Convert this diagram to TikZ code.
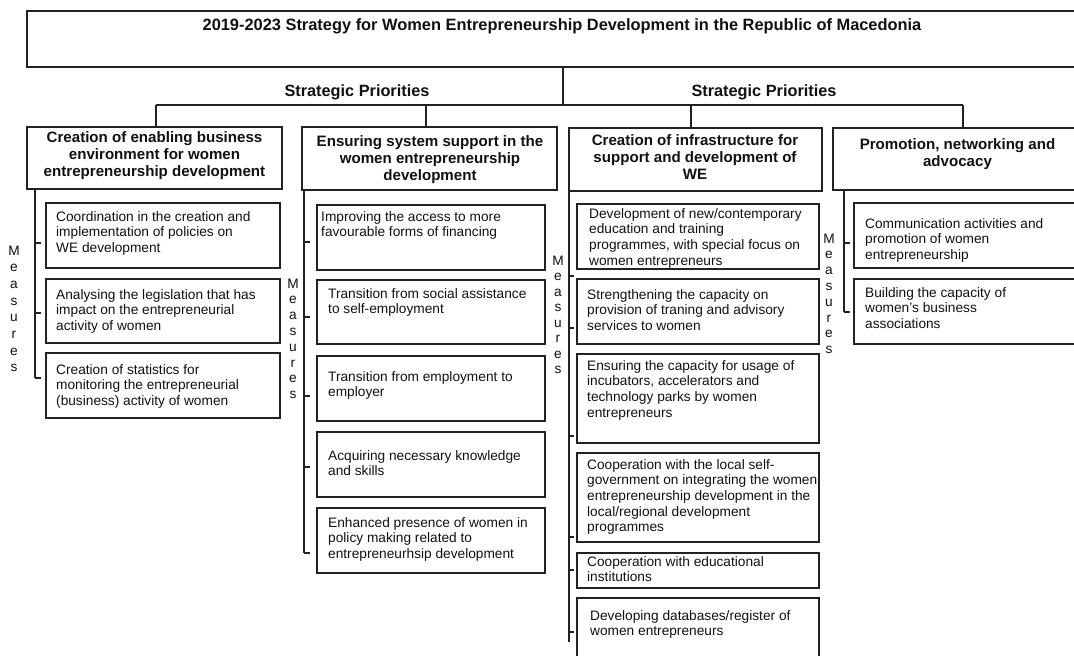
\documentclass[tikz,border=0pt]{standalone}
\usepackage{fontspec}
\setmainfont{Liberation Sans}
\definecolor{linec}{HTML}{222222}
\definecolor{txtc}{HTML}{111111}
\newcommand\bx[5]{\node[box, minimum width={#4pt-#2pt}, minimum height={#5pt-#3pt}] (#1) at (#2,#3) {};}
\newcommand\measnode[4]{\node[measstyle, font=\fontsize{13.7}{#4}\selectfont] (#1) at (#2,#3) {\strut M\\e\\a\\s\\u\\r\\e\\s};}
\begin{document}
\begin{tikzpicture}[x=1pt,y=-1pt,
  conn/.style={draw=linec, line width=1.2pt},
  box/.style={draw=linec, line width=1.6pt, inner sep=0pt, outer sep=0pt, anchor=north west},
  mtext/.style={text=txtc, font=\fontsize{13.7}{15.7}\selectfont, align=left, inner sep=0pt, anchor=north west, execute at begin node=\strut},
  htext/.style={text=txtc, font=\bfseries\fontsize{15.1}{17}\selectfont, align=center, inner sep=0pt, anchor=north, execute at begin node=\strut},
  ttext/.style={text=txtc, font=\bfseries\fontsize{16.4}{19}\selectfont, inner sep=0pt, anchor=base},
  measstyle/.style={text=txtc, align=center, inner sep=0pt, anchor=north}
]
\useasboundingbox (0,0) rectangle (1074,656);
\clip (0,0) rectangle (1074,656);
\fill[white] (0,0) rectangle (1074,656);

% title
\bx{title}{27}{11}{1090}{67}
\node[ttext] (titlet) at (562,30) {2019-2023 Strategy for Women Entrepreneurship Development in the Republic of Macedonia};
\node[ttext, font=\bfseries\fontsize{16.3}{19}\selectfont] (sp1) at (357,96.5) {Strategic Priorities};
\node[ttext, font=\bfseries\fontsize{16.3}{19}\selectfont] (sp2) at (764,96.5) {Strategic Priorities};

% category boxes
\bx{cat1}{27}{127}{282}{189}
\bx{cat2}{302}{127}{557}{190}
\bx{cat3}{569}{128}{822}{191}
\bx{cat4}{833}{128}{1090}{190}
\node[htext] (cat1t) at (154.5,131.5) {Creation of enabling business\\environment for women\\entrepreneurship development};
\node[htext] (cat2t) at (430,135.5) {Ensuring system support in the\\women entrepreneurship\\development};
\node[htext] (cat3t) at (695,134.5) {Creation of infrastructure for\\support and development of\\WE};
\node[htext] (cat4t) at (957.5,138.5) {Promotion, networking and\\advocacy};

% tree connectors
\coordinate (j0) at (563,105);
\coordinate (jl) at (156,105);
\coordinate (jr) at (963,105);
\coordinate (d2) at (426,105);
\coordinate (d3) at (691,105);
\draw[conn] (title.south -| j0) -- (j0);
\draw[conn] (jl) -- (jr);
\draw[conn] (jl) -- (jl |- cat1.north);
\draw[conn] (d2) -- (d2 |- cat2.north);
\draw[conn] (d3) -- (d3 |- cat3.north);
\draw[conn] (jr) -- (jr |- cat4.north);

% column 1 measures
\bx{m11}{46}{203}{280}{268}
\bx{m12}{46}{279}{280}{343}
\bx{m13}{46}{353}{280}{418}
\node[mtext] (m11t) at (56,211) {Coordination in the creation and\\implementation of policies on\\WE development};
\node[mtext] (m12t) at (56,289) {Analysing the legislation that has\\impact on the entrepreneurial\\activity of women};
\node[mtext] (m13t) at (56,364) {Creation of statistics for\\monitoring the entrepreneurial\\(business) activity of women};
\coordinate (s1) at (35,378);
\draw[conn] (cat1.south -| s1) -- (s1);
\foreach \yy in {243,313,378} \draw[conn] (35,\yy) -- (40.5,\yy);
\measnode{ms1}{14}{243.2}{16.66}

% column 2 measures
\bx{m21}{317}{205}{545}{270}
\bx{m22}{317}{280}{545}{344}
\bx{m23}{317}{356}{545}{421}
\bx{m24}{317}{432}{545}{497}
\bx{m25}{317}{508}{545}{573}
\node[mtext] (m21t) at (321,211) {Improving the access to more\\favourable forms of financing};
\node[mtext] (m22t) at (328,288) {Transition from social assistance\\to self-employment};
\node[mtext] (m23t) at (328,371) {Transition from employment to\\employer};
\node[mtext] (m24t) at (328,450) {Acquiring necessary knowledge\\and skills};
\node[mtext] (m25t) at (328,517) {Enhanced presence of women in\\policy making related to\\entrepreneurhsip development};
\coordinate (s2) at (304,553);
\draw[conn] (cat2.south -| s2) -- (s2);
\foreach \yy in {242,317,396,467,553} \draw[conn] (304,\yy) -- (310,\yy);
\measnode{ms2}{293}{276.8}{15.8}

% column 3 measures
\bx{m31}{577}{204}{819}{269}
\bx{m32}{577}{279}{819}{344}
\bx{m33}{577}{354}{819}{443}
\bx{m34}{577}{453}{819}{542}
\bx{m35}{577}{553}{819}{588}
\bx{m36}{577}{598}{819}{680}
\node[mtext] (m31t) at (589,208) {Development of new/contemporary\\education and training\\programmes, with special focus on\\women entrepreneurs};
\node[mtext] (m32t) at (587,289) {Strengthening the capacity on\\provision of traning and advisory\\services to women};
\node[mtext] (m33t) at (587,360) {Ensuring the capacity for usage of\\incubators, accelerators and\\technology parks by women\\entrepreneurs};
\node[mtext] (m34t) at (587,459) {Cooperation with the local self-\\government on integrating the women\\entrepreneurship development in the\\local/regional development\\programmes};
\node[mtext] (m35t) at (587,556) {Cooperation with educational\\institutions};
\node[mtext] (m36t) at (590,610) {Developing databases/register of\\women entrepreneurs};
\coordinate (s3) at (569,642);
\draw[conn] (cat3.south west) -- (s3);
\foreach \yy in {276,328,436,537,570,632} \draw[conn] (569,\yy) -- (574,\yy);
\measnode{ms3}{558}{254.0}{15.52}

% column 4 measures
\bx{m41}{854}{203}{1090}{268}
\bx{m42}{854}{279}{1090}{344}
\node[mtext] (m41t) at (865,218) {Communication activities and\\promotion of women\\entrepreneurship};
\node[mtext] (m42t) at (865,287) {Building the capacity of\\women’s business\\associations};
\coordinate (s4) at (844,312);
\draw[conn] (cat4.south -| s4) -- (s4);
\foreach \yy in {243,312} \draw[conn] (844,\yy) -- (849.5,\yy);
\measnode{ms4}{829}{231.8}{15.8}
\end{tikzpicture}
\end{document}
